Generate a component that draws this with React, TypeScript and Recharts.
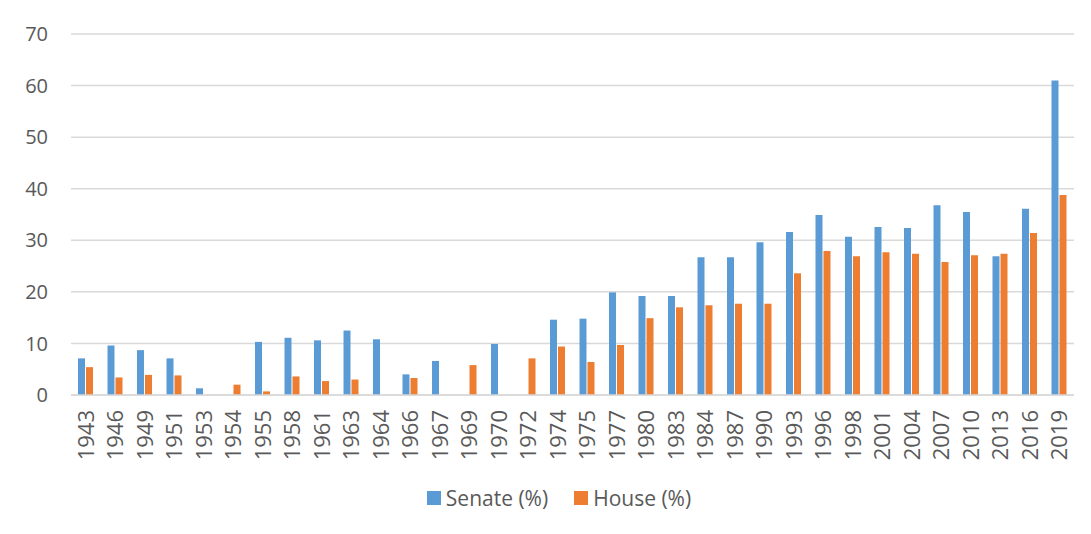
import { BarChart, Bar, XAxis, YAxis, CartesianGrid, Legend } from "recharts";

const years = [
  "1943", "1946", "1949", "1951", "1953", "1954", "1955", "1958", "1961", "1963",
  "1964", "1966", "1967", "1969", "1970", "1972", "1974", "1975", "1977", "1980",
  "1983", "1984", "1987", "1990", "1993", "1996", "1998", "2001", "2004", "2007",
  "2010", "2013", "2016", "2019",
];

// Senate (%) by election year
const senate = [
  7.1, 9.6, 8.7, 7.1, 1.3, 0, 10.3, 11.1, 10.6, 12.5,
  10.8, 4.0, 6.6, 0, 9.9, 0, 14.6, 14.8, 19.9, 19.2,
  19.2, 26.7, 26.7, 29.6, 31.6, 34.9, 30.7, 32.6, 32.4, 36.8,
  35.5, 26.9, 36.1, 61.0,
];

// House (%) by election year
const house = [
  5.4, 3.4, 3.9, 3.8, 0, 2.0, 0.7, 3.6, 2.7, 3.0,
  0, 3.3, 0, 5.8, 0, 7.1, 9.4, 6.4, 9.7, 14.9,
  17.0, 17.4, 17.7, 17.7, 23.6, 27.9, 26.9, 27.7, 27.4, 25.8,
  27.1, 27.4, 31.4, 38.8,
];

const yTicks = [0, 10, 20, 30, 40, 50, 60, 70];

const data = years.map((y, i) => ({ year: y, senate: senate[i], house: house[i] }));

const YearTick = (props: any) => {
  const { x, y, payload } = props;
  return (
    <text
      transform={`translate(${x},${y}) rotate(-90)`}
      textAnchor="end"
      dy="0.36em"
      fill="#595959"
      fontSize={22}
    >
      {payload.value}
    </text>
  );
};

// legend in series order, Excel-like spacing
const LegendBox = (props: any) => {
  const items = [...(props.payload || [])].sort((a: any, b: any) =>
    a.dataKey === "senate" ? -1 : b.dataKey === "senate" ? 1 : 0
  );
  return (
    <div style={{ display: "flex", justifyContent: "center", alignItems: "center", paddingLeft: 36 }}>
      {items.map((it: any, i: number) => (
        <div key={it.value} style={{ display: "flex", alignItems: "center", marginLeft: i ? 26 : 0 }}>
          <span style={{ width: 14, height: 14, background: it.color, display: "inline-block", marginRight: 5 }} />
          <span style={{ color: "#595959", fontSize: 21, lineHeight: "28px" }}>{it.value}</span>
        </div>
      ))}
    </div>
  );
};

export default function App() {
  return (
    <div
      style={{
        margin: "-3px 0 0 -1px",
        borderTop: "1px solid #d9d9d9",
        borderLeft: "1px solid #d9d9d9",
        width: 1090,
        height: 530,
        fontFamily: "'Open Sans', sans-serif",
      }}
    >
      <BarChart
        width={1090}
        height={530}
        data={data}
        margin={{ top: 28, right: 24, left: 0, bottom: 24 }}
        barSize={7}
        barGap={1}
      >
        <CartesianGrid vertical={false} stroke="#d9d9d9" strokeWidth={1.5} />
        <XAxis
          dataKey="year"
          interval={0}
          height={89}
          tick={<YearTick />}
          tickLine={false}
          axisLine={{ stroke: "#d9d9d9", strokeWidth: 1.5 }}
          tickSize={0}
          tickMargin={15}
        />
        <YAxis
          width={63}
          domain={[0, 70]}
          ticks={yTicks}
          axisLine={false}
          tickLine={false}
          tickSize={0}
          tickMargin={23}
          tick={{ fill: "#595959", fontSize: 20 }}
        />
        <Legend verticalAlign="bottom" wrapperStyle={{ height: 28 }} content={<LegendBox />} />
        <Bar dataKey="senate" name="Senate (%)" fill="#5b9bd5" isAnimationActive={false} />
        <Bar dataKey="house" name="House (%)" fill="#ed7d31" isAnimationActive={false} />
      </BarChart>
    </div>
  );
}
